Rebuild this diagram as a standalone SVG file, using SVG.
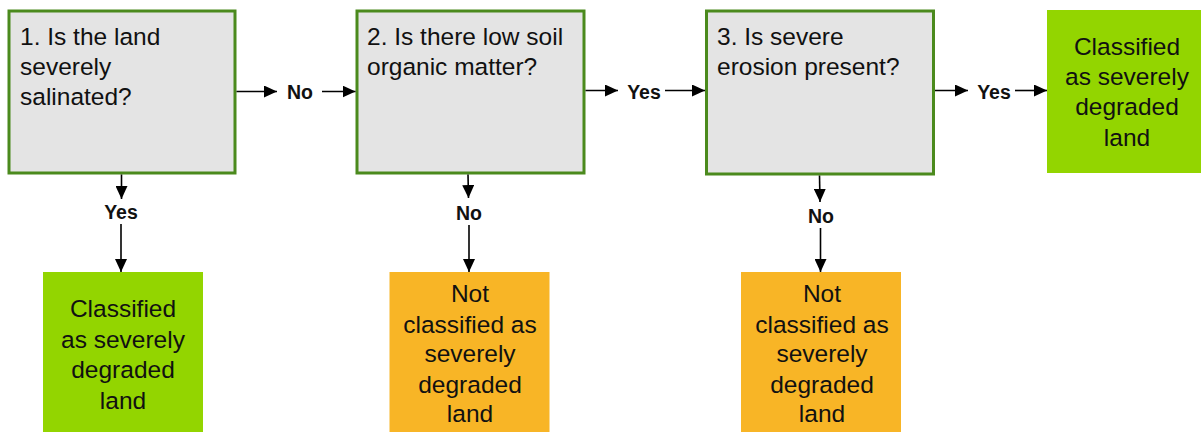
<svg xmlns="http://www.w3.org/2000/svg" width="1201" height="432" viewBox="0 0 1201 432">
  <style>
    .q { fill: #e4e4e4; stroke: #4b8a1d; stroke-width: 3; }
    .yes { fill: #93d500; }
    .no { fill: #f8b526; }
    .qt { font-family: "Liberation Sans", Arial, sans-serif; font-size: 24.5px; fill: #111; }
    .rt { font-family: "Liberation Sans", Arial, sans-serif; font-size: 24.5px; fill: #111; text-anchor: middle; }
    .lbl { font-family: "Liberation Sans", Arial, sans-serif; font-size: 19.5px; font-weight: bold; fill: #111; text-anchor: middle; }
    .c { stroke: #000; stroke-width: 1.6; fill: none; marker-end: url(#ah); }
  </style>
  <defs>
    <marker id="ah" markerWidth="13" markerHeight="12" refX="13" refY="6" orient="auto" markerUnits="userSpaceOnUse">
      <path d="M0,0 L13,6 L0,12 z" fill="#000"/>
    </marker>
  </defs>
  <rect width="1201" height="432" fill="#fff"/>

  <!-- question 1 -->
  <g id="q1">
    <rect class="q" x="9" y="11" width="226" height="162"/>
    <text class="qt" x="20" y="44.5">1. Is the land</text>
    <text class="qt" x="20" y="74.5">severely</text>
    <text class="qt" x="20" y="105">salinated?</text>
  </g>

  <!-- question 2 -->
  <g id="q2">
    <rect class="q" x="357" y="11" width="227" height="162"/>
    <text class="qt" x="367" y="44.5">2. Is there low soil</text>
    <text class="qt" x="367" y="74.5">organic matter?</text>
  </g>

  <!-- question 3 -->
  <g id="q3">
    <rect class="q" x="706.5" y="11" width="227" height="163"/>
    <text class="qt" x="717" y="44.5">3. Is severe</text>
    <text class="qt" x="717" y="75">erosion present?</text>
  </g>

  <!-- outcomes -->
  <g id="r-degraded-3">
    <rect class="yes" x="1047" y="10" width="160" height="163"/>
    <text class="rt" x="1127" y="54.5">Classified</text>
    <text class="rt" x="1127" y="84.5">as severely</text>
    <text class="rt" x="1127" y="115">degraded</text>
    <text class="rt" x="1127" y="145.5">land</text>
  </g>

  <g id="r-degraded-1">
    <rect class="yes" x="43" y="272" width="160" height="170"/>
    <text class="rt" x="123" y="317">Classified</text>
    <text class="rt" x="123" y="347.5">as severely</text>
    <text class="rt" x="123" y="378">degraded</text>
    <text class="rt" x="123" y="409">land</text>
  </g>

  <g id="r-not-2">
    <rect class="no" x="389.5" y="272" width="160" height="170"/>
    <text class="rt" x="470" y="302">Not</text>
    <text class="rt" x="470" y="332.5">classified as</text>
    <text class="rt" x="470" y="362">severely</text>
    <text class="rt" x="470" y="392.5">degraded</text>
    <text class="rt" x="470" y="422">land</text>
  </g>

  <g id="r-not-3">
    <rect class="no" x="741" y="272" width="160" height="170"/>
    <text class="rt" x="822" y="302">Not</text>
    <text class="rt" x="822" y="332.5">classified as</text>
    <text class="rt" x="822" y="362">severely</text>
    <text class="rt" x="822" y="392.5">degraded</text>
    <text class="rt" x="822" y="422">land</text>
  </g>

  <!-- connectors with their labels -->
  <g id="connectors">
    <line class="c" x1="236.5" y1="91.5" x2="277" y2="91.5"/>
    <text class="lbl" x="300" y="99">No</text>
    <line class="c" x1="322" y1="91.5" x2="355.5" y2="91.5"/>

    <line class="c" x1="585.5" y1="90.5" x2="618" y2="90.5"/>
    <text class="lbl" x="644" y="98.5">Yes</text>
    <line class="c" x1="665" y1="90.5" x2="705" y2="90.5"/>

    <line class="c" x1="935" y1="90.5" x2="968" y2="90.5"/>
    <text class="lbl" x="994" y="98.5">Yes</text>
    <line class="c" x1="1015" y1="90.5" x2="1047" y2="90.5"/>

    <line class="c" x1="121.5" y1="174.5" x2="121.5" y2="199"/>
    <text class="lbl" x="121" y="219">Yes</text>
    <line class="c" x1="121" y1="224" x2="121" y2="272"/>

    <line class="c" x1="468" y1="174.5" x2="468.5" y2="198"/>
    <text class="lbl" x="469" y="220">No</text>
    <line class="c" x1="469" y1="225" x2="469" y2="272"/>

    <line class="c" x1="819.5" y1="175.5" x2="820" y2="202"/>
    <text class="lbl" x="821" y="223">No</text>
    <line class="c" x1="820.5" y1="228" x2="820.5" y2="272"/>
  </g>
</svg>
